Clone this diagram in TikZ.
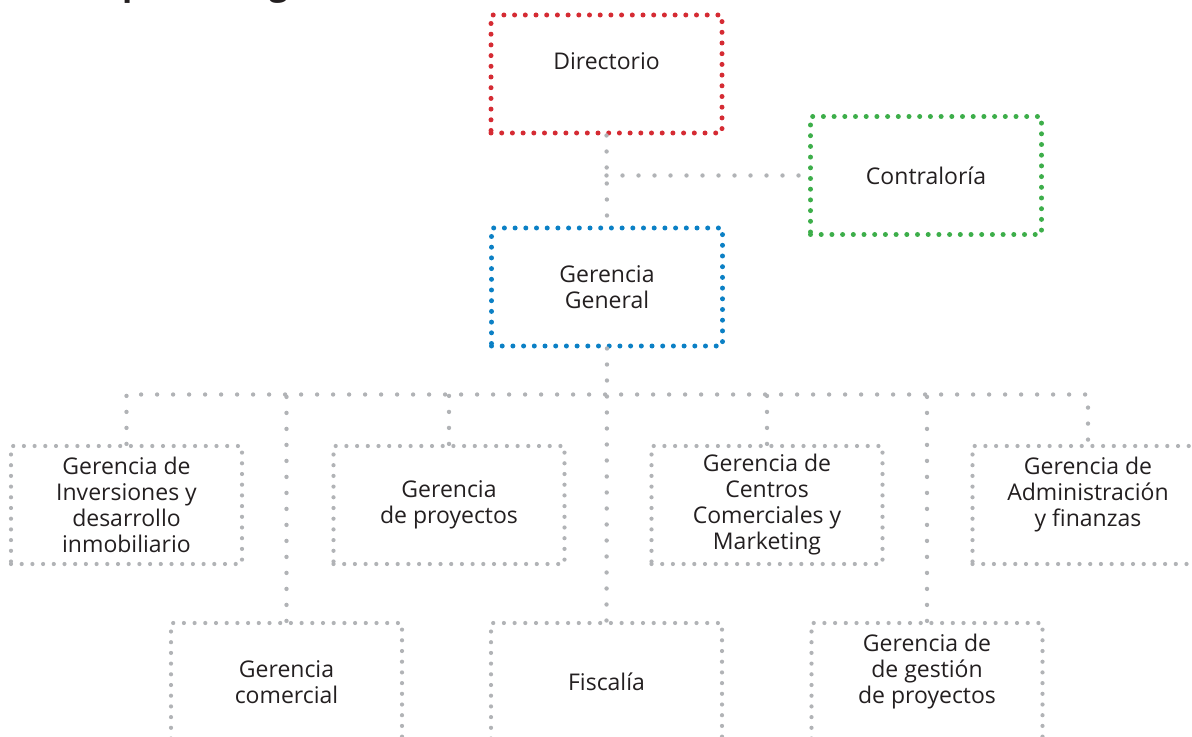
\documentclass[tikz,border=0pt]{standalone}
\usepackage{fontspec}
\setmainfont{Open Sans}
\definecolor{rojo}{HTML}{D52B33}
\definecolor{verde}{HTML}{3DAE4A}
\definecolor{azul}{HTML}{0B80C5}
\definecolor{gris}{HTML}{B1B3B6}
\definecolor{texto}{HTML}{231F20}
\tikzset{
    box/.style={line width=2.5pt, line cap=round, dash pattern=on 0pt off 5.35pt,
        minimum width=115.5pt, minimum height=59pt, inner sep=0pt, align=center,
        text=texto, font=\fontsize{11.5}{13}\selectfont},
    redbox/.style={box, draw=rojo},
    greenbox/.style={box, draw=verde},
    bluebox/.style={box, draw=azul},
    graybox/.style={box, draw=gris, line width=2.1pt},
    link/.style={draw=gris, line width=2.2pt, line cap=round, dash pattern=on 0pt off 8pt},
    titulo/.style={text=texto, font=\fontsize{16.5}{19}\selectfont\bfseries, inner sep=0pt}
}
\begin{document}
\begin{tikzpicture}[x=0.5pt, y=-0.5pt]
    \useasboundingbox (0,0) rectangle (1192,737);
    \node[titulo, anchor=base west] (tit) at (76,-4) {Esquema orgánico};

    % Top level
    \node[redbox] (dir) at (606.5,74) {Directorio\\~};
    \node[greenbox] (con) at (926,175.5) {Contraloría};
    \node[bluebox] (gg) at (607,287) {Gerencia\\General};

    % First row
    \node[graybox] (inv) at (126.5,505) {Gerencia de\\Inversiones y\\desarrollo\\inmobiliario};
    \node[graybox] (proy) at (449,505) {Gerencia\\de proyectos};
    \node[graybox] (cen) at (767,505) {Gerencia de\\Centros\\Comerciales y\\Marketing};
    \node[graybox] (adm) at (1088,505) {Gerencia de\\Administración\\y finanzas\\~};

    % Second row
    \node[graybox] (com) at (286.5,682) {Gerencia\\comercial};
    \node[graybox] (fis) at (606.5,682) {Fiscalía};
    \node[graybox] (ges) at (927,682) {Gerencia de\\de gestión\\de proyectos\\~};

    % Links
    \draw[link] (dir.south) -- (gg.north);
    \draw[link] (dir.south |- con.west) -- (con.west);
    \draw[link] (gg.south) -- (fis.north);
    \path (gg.south) ++(0,46) coordinate (bus);
    \draw[link] (inv.north) |- (bus) -| (adm.north);
    \foreach \n in {com,proy,cen,ges}
        \draw[link] (\n.north) -- (\n.north |- bus);
\end{tikzpicture}
\end{document}
